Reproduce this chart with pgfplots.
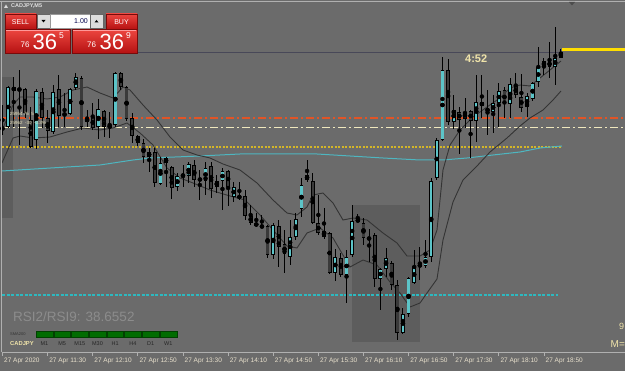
\documentclass[border=0pt]{standalone}
\usepackage{pgfplots}
\pgfplotsset{compat=1.18}
\usepackage{pgfplotstable}
\usepackage{fontspec}
\setmainfont{Liberation Sans}
\definecolor{bg}{RGB}{107,107,107}
\definecolor{shadec}{RGB}{93,93,93}
\definecolor{bullc}{RGB}{92,196,200}
\definecolor{bearc}{RGB}{58,58,58}
\definecolor{band}{RGB}{52,52,52}
\definecolor{smac}{RGB}{78,182,192}
\definecolor{orangec}{RGB}{226,84,38}
\definecolor{creamc}{RGB}{240,232,190}
\definecolor{goldc}{RGB}{212,182,40}
\definecolor{tealdash}{RGB}{45,185,192}
\definecolor{yel}{RGB}{255,222,0}
\definecolor{pline}{RGB}{72,72,88}
\definecolor{lbl}{RGB}{232,224,204}
\definecolor{framec}{RGB}{176,176,176}
\definecolor{redtop}{RGB}{236,70,64}
\definecolor{redbot}{RGB}{182,18,18}
\definecolor{darkred}{RGB}{120,10,10}
\definecolor{spin}{RGB}{220,220,220}
\definecolor{greenbox}{RGB}{0,108,0}
\definecolor{rsic}{RGB}{140,140,140}
\definecolor{txtyel}{RGB}{240,228,170}

% candles in pixel units: i, open, close, high, low (y grows downward)
\pgfplotstableread{
i o c h l
0 130 127 105 135
1 127 87 86 128
6 140 91 89 149
9 132 92 85 134
12 114 89 88 115
13 88 77 73 90
17 127 109 99 139
19 128 125 112 138
20 125 73 72 127
26 157 152 148 172
28 184 163 157 185
29 163 158 157 187
31 187 176 173 191
33 176 164 162 183
36 181 168 162 195
38 187 181 175 193
39 181 171 168 210
41 197 187 182 202
45 226 223 213 227
48 255 225 223 259
51 257 237 220 265
52 237 219 213 240
53 209 185 178 217
57 237 231 208 239
59 273 257 249 281
61 275 257 250 303
62 255 221 205 257
67 279 269 268 310
68 269 258 248 277
71 333 314 308 334
72 314 278 277 317
73 283 266 250 284
74 267 264 247 280
75 266 257 240 268
76 257 181 178 262
77 178 140 138 180
78 140 70 57 141
80 122 110 95 129
82 119 112 98 128
84 121 102 75 142
87 112 103 95 133
88 103 91 83 127
90 104 84 78 118
93 107 96 93 117
94 99 83 82 101
95 82 67 47 87
96 67 61 58 75
98 67 58 27 85
99 58 52 49 58
}\bull
\pgfplotstableread{
i o c h l
2 87 91 77 127
3 89 90 70 145
4 89 113 88 118
5 120 147 107 148
7 92 118 88 128
8 118 131 110 143
10 89 116 75 127
11 113 116 93 127
14 78 127 76 130
15 118 122 110 127
16 117 128 103 130
18 111 127 110 137
21 73 87 72 90
22 87 119 86 121
23 118 136 113 143
24 136 143 135 146
25 143 157 139 163
27 152 183 148 187
30 167 188 166 199
32 175 176 165 187
34 165 180 160 187
35 178 181 170 200
37 166 189 162 198
40 171 187 170 206
42 196 198 182 200
43 196 216 190 220
44 216 223 205 225
46 226 227 215 228
47 226 255 225 258
49 226 247 220 267
50 244 254 230 273
54 175 180 160 182
55 181 223 173 224
56 223 233 195 235
58 233 273 232 274
60 258 275 253 277
63 219 222 214 222
64 223 238 218 245
65 238 239 229 262
66 235 279 233 287
69 263 285 261 290
70 285 333 280 340
79 70 122 59 125
81 112 120 107 154
83 111 121 110 158
85 102 106 75 118
86 108 112 90 135
89 90 104 87 118
91 86 95 73 98
92 97 108 74 112
97 61 67 42 78
}\bear

\pgfplotsset{
  wick/.style={only marks, mark=none, forget plot,
    error bars/.cd, y dir=both, y explicit, error mark=none,
    error bar style={draw=black, line width=0.9pt, solid}},
  body/.style={only marks, mark=none, forget plot,
    error bars/.cd, y dir=both, y explicit, error mark=none,
    error bar style={draw=#1, line width=3.8pt, solid}},
  fillbody/.style={only marks, mark=none, forget plot,
    error bars/.cd, y dir=both, y explicit, error mark=none,
    error bar style={draw=#1, line width=2.4pt, solid}},
}

\begin{document}
\begin{tikzpicture}
\begin{scope}[x=1pt,y=-1pt,yshift=371pt]
  \fill[bg] (0,0) rectangle (625,371);
  \fill[shadec] (2,77) rectangle (13,218);
  \fill[shadec] (352,205) rectangle (420,342);
\end{scope}

\begin{axis}[at={(0,0)}, anchor=south west, scale only axis,
  width=625pt, height=371pt, xmin=0, xmax=625, ymin=0, ymax=371,
  y dir=reverse, hide axis, clip=true]

% horizontal levels
\addplot[pline, line width=0.9pt] coordinates {(137,52.3) (562,52.3)};
\addplot[yel, line width=3pt] coordinates {(562,49.5) (625,49.5)};
\addplot[orangec, line width=1.2pt, dash pattern=on 8pt off 3pt on 2pt off 3pt] coordinates {(2,118) (625,118)};
\addplot[creamc, line width=1pt, dash pattern=on 8pt off 3pt on 2pt off 3pt] coordinates {(2,127.3) (625,127.3)};
\addplot[goldc, line width=1.2pt, dash pattern=on 2pt off 1.5pt] coordinates {(2,147) (562,147)};
\addplot[tealdash, line width=1.8pt, dash pattern=on 3pt off 1.5pt] coordinates {(2,295) (558,295)};

% SMA 200
\addplot[smac, line width=1pt] coordinates {
(2,171) (67,167) (100,165) (133,160) (150,158) (200,156) (240,154) (317,154)
(350,156) (383,158) (420,160) (443,160) (467,158) (493,155) (520,152) (540,148) (562,146)};

% upper band
\addplot[band, line width=0.9pt] coordinates {
(3,128) (13,105) (20,97) (33,97) (47,99) (60,97) (73,90) (87,87) (100,93) (113,98)
(123,87) (130,90) (143,105) (157,120) (170,137) (183,150) (197,155) (210,158)
(223,164) (240,170) (257,183) (273,200) (287,213) (297,215) (307,207) (313,195)
(323,193) (333,203) (343,220) (353,218) (367,220) (383,233) (397,243) (407,256)
(420,256) (430,250) (437,230) (443,170) (450,145) (460,130) (473,117) (487,107)
(500,98) (510,88) (520,85) (530,86) (540,78) (550,70) (561,61)};

% lower band
\addplot[band, line width=0.9pt] coordinates {
(2,163) (13,138) (20,136) (33,138) (50,137) (67,132) (83,128) (100,130) (113,128)
(127,123) (140,133) (153,145) (167,168) (180,178) (193,183) (210,190) (230,196)
(245,200) (260,215) (273,230) (287,246) (297,248) (307,233) (320,228) (333,238)
(340,250) (350,267) (363,260) (377,265) (390,282) (400,293) (410,307) (420,303)
(427,293) (437,279) (443,240) (453,202) (463,180) (477,166) (490,152) (507,138)
(520,126) (530,118) (543,110) (553,100) (561,91)};

% wicks
\addplot[wick] table[x expr=2.5+5.64*\thisrow{i}, y expr=(\thisrow{h}+\thisrow{l})/2, y error expr=(\thisrow{l}-\thisrow{h})/2] {\bull};
\addplot[wick] table[x expr=2.5+5.64*\thisrow{i}, y expr=(\thisrow{h}+\thisrow{l})/2, y error expr=(\thisrow{l}-\thisrow{h})/2] {\bear};
% bodies
\addplot[body=black] table[x expr=2.5+5.64*\thisrow{i}, y expr=(\thisrow{o}+\thisrow{c})/2, y error expr={max(abs(\thisrow{o}-\thisrow{c})/2,0.6)}] {\bull};
\addplot[body=black] table[x expr=2.5+5.64*\thisrow{i}, y expr=(\thisrow{o}+\thisrow{c})/2, y error expr={max(abs(\thisrow{o}-\thisrow{c})/2,0.6)}] {\bear};
\addplot[fillbody=bullc] table[x expr=2.5+5.64*\thisrow{i}, y expr=(\thisrow{o}+\thisrow{c})/2, y error expr={max(abs(\thisrow{o}-\thisrow{c})/2-0.7,0)}] {\bull};
\addplot[fillbody=bearc] table[x expr=2.5+5.64*\thisrow{i}, y expr=(\thisrow{o}+\thisrow{c})/2, y error expr={max(abs(\thisrow{o}-\thisrow{c})/2-0.7,0)}] {\bear};
\end{axis}

\begin{scope}[x=1pt,y=-1pt,yshift=371pt]
  % frame and time axis
  \draw[framec, line width=0.8pt] (1.5,352) -- (1.5,1.5);
  \draw[framec, line width=0.8pt] (0,1.5) -- (625,1.5);
  \draw[framec, line width=0.8pt] (1.5,352) -- (625,352);
  \fill[black!70] (569,2) -- (575,2) -- (572,5.5) -- cycle;
  \foreach \k/\lab in {0/{27 Apr 2020},1/{27 Apr 11:30},2/{27 Apr 12:10},3/{27 Apr 12:50},
      4/{27 Apr 13:30},5/{27 Apr 14:10},6/{27 Apr 14:50},7/{27 Apr 15:30},8/{27 Apr 16:10},
      9/{27 Apr 16:50},10/{27 Apr 17:30},11/{27 Apr 18:10},12/{27 Apr 18:50}}{
    \pgfmathsetmacro{\xx}{2.5+45.12*\k}
    \draw[framec, line width=0.8pt] (\xx,352) -- (\xx,356);
    \node[anchor=base west, inner sep=0pt, text=lbl, font=\fontsize{6.5}{7}\selectfont] at (\xx+1.5,363) {\lab};
  }

  % title
  \fill[white!85!black] (4,8) -- (8,8) -- (6,4.5) -- cycle;
  \node[anchor=base west, inner sep=0pt, text=white!88!black, font=\bfseries\fontsize{5.5}{6}\selectfont] at (11,8) {CADJPY,M5};

  % trading panel
  \shade[top color=redtop, bottom color=redbot, draw=darkred, line width=0.5pt] (5,14) rectangle (36,29);
  \node[text=white, font=\fontsize{7}{8}\selectfont] at (20.5,21.8) {SELL};
  \fill[spin, draw=black!60, line width=0.4pt] (37,14.5) rectangle (50,28);
  \fill[white, draw=black!40, line width=0.4pt] (50,14.5) rectangle (90,28);
  \fill[spin, draw=black!60, line width=0.4pt] (90,14.5) rectangle (103,28);
  \fill[black] (41.5,20) -- (45.5,20) -- (43.5,22.5) -- cycle;
  \fill[black] (94.5,22.5) -- (98.5,22.5) -- (96.5,20) -- cycle;
  \node[anchor=base east, inner sep=0pt, text=blue!30!black, font=\fontsize{7}{8}\selectfont] at (88,24) {1.00};
  \shade[top color=redtop, bottom color=redbot, draw=darkred, line width=0.5pt] (106,14) rectangle (137,29);
  \node[text=white, font=\fontsize{7}{8}\selectfont] at (121.5,21.8) {BUY};
  \shade[top color=redtop, bottom color=redbot, draw=darkred, line width=0.5pt] (5,29.5) rectangle (70,53);
  \shade[top color=redtop, bottom color=redbot, draw=darkred, line width=0.5pt] (72,29.5) rectangle (137,53);
  \draw[red!40!white, line width=0.5pt] (6,30) -- (69,30);
  \draw[red!40!white, line width=0.5pt] (73,30) -- (136,30);
  \node[anchor=base west, inner sep=0pt, text=white, font=\fontsize{8}{9}\selectfont] at (20.5,48) {76};
  \node[anchor=base west, inner sep=0pt, text=white, font=\fontsize{22}{24}\selectfont] at (32.5,50) {36};
  \node[anchor=base west, inner sep=0pt, text=white, font=\fontsize{8.5}{9}\selectfont] at (59,38.5) {5};
  \node[anchor=base west, inner sep=0pt, text=white, font=\fontsize{8}{9}\selectfont] at (87,48) {76};
  \node[anchor=base west, inner sep=0pt, text=white, font=\fontsize{22}{24}\selectfont] at (99.5,50) {36};
  \node[anchor=base west, inner sep=0pt, text=white, font=\fontsize{8.5}{9}\selectfont] at (126,38.5) {9};

  % small level labels
  \node[anchor=base west, inner sep=0pt, text=creamc, font=\fontsize{4.5}{5}\selectfont] at (10,115.5) {25954.75 \ 5};
  \node[anchor=base west, inner sep=0pt, text=creamc, font=\fontsize{4.5}{5}\selectfont] at (10,124.5) {25962 \ -30 \ -0.3\%};

  % timer
  \node[anchor=base west, inner sep=0pt, text=txtyel, font=\bfseries\fontsize{11}{12}\selectfont] at (465,63) {4:52};

  % RSI text and trend boxes
  \node[anchor=base west, inner sep=0pt, text=rsic, font=\fontsize{13.5}{15}\selectfont] at (13,321.7) {RSI2/RSI9: 38.6552};
  \node[anchor=base west, inner sep=0pt, text=black!80, font=\fontsize{4}{5}\selectfont] at (10,336) {SMA200};
  \foreach \j/\lab in {0/M1,1/M5,2/M15,3/M30,4/H1,5/H4,6/D1,7/W1}{
    \pgfmathsetmacro{\bx}{36+17.7*\j}
    \fill[greenbox, draw=green!25!black, line width=0.4pt] (\bx,331) rectangle (\bx+16.8,337.5);
    \node[inner sep=0pt, text=black!85, font=\fontsize{5.5}{6}\selectfont] at (\bx+8.4,343.3) {\lab};
  }
  \node[anchor=base west, inner sep=0pt, text=txtyel, font=\bfseries\fontsize{5.8}{6}\selectfont] at (10,345.5) {CADJPY};

  % cut-off texts on the right
  \node[anchor=base west, inner sep=0pt, text=txtyel, font=\fontsize{9}{10}\selectfont] at (619,329.5) {9};
  \node[anchor=base west, inner sep=0pt, text=txtyel, font=\fontsize{10}{11}\selectfont] at (610.5,347.5) {M=};
\end{scope}
\pgfresetboundingbox
\path (0,0) rectangle (625pt,371pt);
\end{tikzpicture}
\end{document}
